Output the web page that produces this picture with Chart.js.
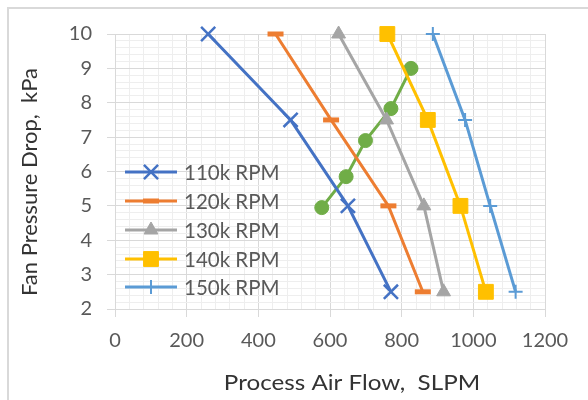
<!DOCTYPE html>
<html>
<head>
<meta charset="utf-8">
<script src="https://cdn.jsdelivr.net/npm/chart.js@4.4.1/dist/chart.umd.min.js"></script>
<style>
  html, body { margin: 0; padding: 0; background: #fff; overflow: hidden; }
  canvas { display: block; }
</style>
</head>
<body>
<canvas id="fanChart" width="588" height="400"></canvas>
<script>
// pressure steps shared by the speed curves (kPa)
const pressureSteps = [10, 7.5, 5, 2.5];

// air flow (SLPM) at each pressure step, one array per fan speed
const flow110k = [260, 490, 650, 770];
const flow120k = [448, 603, 763, 859];
const flow130k = [624, 758, 862, 917];
const flow140k = [760, 873, 964, 1035];
const flow150k = [887, 977, 1047, 1118];

// operating line crossing the speed curves
const opFlow = [577, 645, 699, 770, 826];
const opPressure = [4.95, 5.85, 6.9, 7.83, 9.0];

const speedLabels = ['110k RPM', '120k RPM', '130k RPM', '140k RPM', '150k RPM'];
const xTicks = [0, 200, 400, 600, 800, 1000, 1200];
const yTicks = [2, 3, 4, 5, 6, 7, 8, 9, 10];

const FONT = 'Lato, "Liberation Sans", sans-serif';

function pts(xs, ys) {
  return xs.map((x, i) => ({ x: x, y: ys[i] }));
}

function speedSet(label, flows, color, style, radius, pw) {
  return {
    label: label,
    data: pts(flows, pressureSteps),
    showLine: true,
    borderColor: color,
    backgroundColor: color,
    borderWidth: 3,
    pointStyle: style,
    pointRadius: radius,
    pointHoverRadius: radius,
    pointBorderWidth: pw,
    pointBorderColor: color,
    pointBackgroundColor: color,
    tension: 0,
    clip: false
  };
}

const datasets = [
  speedSet(speedLabels[0], flow110k, '#4472C4', 'crossRot', 10, 2.5),
  speedSet(speedLabels[1], flow120k, '#ED7D31', 'line', 8, 5),
  speedSet(speedLabels[2], flow130k, '#A5A5A5', 'triangle', 8, 1),
  speedSet(speedLabels[3], flow140k, '#FFC000', 'rect', 10.5, 1),
  speedSet(speedLabels[4], flow150k, '#5B9BD5', 'cross', 7, 2),
  {
    label: 'operating',
    data: pts(opFlow, opPressure),
    showLine: true,
    borderColor: '#70AD47',
    backgroundColor: '#70AD47',
    borderWidth: 3,
    pointStyle: 'circle',
    pointRadius: 7,
    pointHoverRadius: 7,
    pointBorderWidth: 1,
    tension: 0,
    clip: false
  }
];

function isWhole(v, step) {
  const q = v / step;
  return Math.abs(q - Math.round(q)) < 1e-6;
}

// frame round the whole chart
const framePlugin = {
  id: 'frame',
  beforeDraw(chart) {
    const ctx = chart.ctx;
    ctx.save();
    ctx.fillStyle = '#fff';
    ctx.fillRect(0, 0, chart.width, chart.height);
    ctx.strokeStyle = '#d9d9d9';
    ctx.lineWidth = 2;
    ctx.strokeRect(8, 8, chart.width + 20, chart.height + 20);
    ctx.restore();
  }
};

// axis titles
const titlePlugin = {
  id: 'axisTitles',
  afterDraw(chart) {
    const ctx = chart.ctx;
    ctx.save();
    ctx.fillStyle = '#333';
    ctx.font = '22px ' + FONT;
    ctx.textAlign = 'center';
    ctx.textBaseline = 'middle';
    ctx.save();
    ctx.translate(352, 383);
    ctx.scale(1.1, 1);
    ctx.fillText('Process Air Flow,  SLPM', 0, 0);
    ctx.restore();
    ctx.translate(30, 182);
    ctx.rotate(-Math.PI / 2);
    ctx.fillText('Fan Pressure Drop,  kPa', 0, 0);
    ctx.restore();
  }
};

// legend sitting inside the plot, lower left
const legendPlugin = {
  id: 'insideLegend',
  afterDatasetsDraw(chart) {
    const ctx = chart.ctx;
    const rowY = [172, 201, 230, 259, 287];
    ctx.save();
    for (let i = 0; i < 5; i++) {
      const ds = chart.data.datasets[i];
      const y = rowY[i];
      ctx.strokeStyle = ds.borderColor;
      ctx.lineWidth = 3;
      ctx.beginPath();
      ctx.moveTo(125, y);
      ctx.lineTo(177, y);
      ctx.stroke();
      ctx.fillStyle = ds.backgroundColor;
      ctx.strokeStyle = ds.borderColor;
      ctx.lineWidth = ds.pointBorderWidth;
      Chart.helpers.drawPoint(ctx, {
        pointStyle: ds.pointStyle,
        radius: ds.pointRadius,
        borderWidth: ds.pointBorderWidth,
        rotation: 0
      }, 151, y);
      ctx.fillStyle = '#595959';
      ctx.font = '20.5px ' + FONT;
      ctx.textAlign = 'left';
      ctx.textBaseline = 'middle';
      ctx.fillText(ds.label, 184, y + 1);
    }
    ctx.restore();
  }
};

new Chart(document.getElementById('fanChart'), {
  type: 'scatter',
  data: { datasets: datasets },
  plugins: [framePlugin, legendPlugin, titlePlugin],
  options: {
    responsive: false,
    animation: false,
    devicePixelRatio: 1,
    layout: { padding: { left: 0, top: 34, right: 43, bottom: 0 } },
    plugins: {
      legend: { display: false },
      tooltip: { enabled: false }
    },
    scales: {
      x: {
        type: 'linear',
        min: xTicks[0],
        max: xTicks[xTicks.length - 1],
        afterFit(scale) { scale.height = 91; },
        ticks: {
          stepSize: 40,
          autoSkip: false,
          maxRotation: 0,
          padding: 12,
          color: '#595959',
          font: { family: FONT, size: 20 },
          callback: (v) => (isWhole(v, 200) ? v : '')
        },
        grid: {
          color: (c) => (isWhole(c.tick.value, 200) ? '#d9d9d9' : '#eeeeee'),
          tickColor: (c) => (isWhole(c.tick.value, 200) ? '#d9d9d9' : 'rgba(0,0,0,0)'),
          tickLength: 8
        },
        border: { color: '#d9d9d9' }
      },
      y: {
        type: 'linear',
        min: yTicks[0],
        max: yTicks[yTicks.length - 1],
        afterFit(scale) { scale.width = 115; },
        ticks: {
          stepSize: 0.2,
          autoSkip: false,
          padding: 15,
          color: '#595959',
          font: { family: FONT, size: 20 },
          callback: (v) => (isWhole(v, 1) ? Math.round(v) : '')
        },
        grid: {
          color: (c) => (isWhole(c.tick.value, 1) ? '#d9d9d9' : '#eeeeee'),
          tickColor: (c) => (isWhole(c.tick.value, 1) ? '#d9d9d9' : 'rgba(0,0,0,0)'),
          tickLength: 8
        },
        border: { color: '#d9d9d9' }
      }
    }
  }
});
</script>
</body>
</html>
